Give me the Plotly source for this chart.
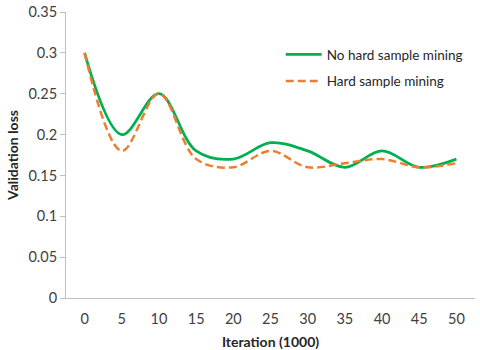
import plotly.graph_objects as go

iterations = [0, 5, 10, 15, 20, 25, 30, 35, 40, 45, 50]
no_hard = [0.30, 0.20, 0.25, 0.18, 0.17, 0.19, 0.18, 0.16, 0.18, 0.16, 0.17]
hard = [0.30, 0.18, 0.25, 0.17, 0.16, 0.18, 0.16, 0.165, 0.17, 0.16, 0.165]
y_ticks = [0, 0.05, 0.1, 0.15, 0.2, 0.25, 0.3, 0.35]
y_labels = ["0", "0.05", "0.1", "0.15", "0.2", "0.25", "0.3", "0.35"]

font_family = "Lato, Carlito, Calibri, sans-serif"

fig = go.Figure()
fig.add_trace(go.Scatter(
    x=iterations, y=no_hard, mode="lines", name="No hard sample mining",
    legendgroup="a",
    line=dict(color="#00b050", width=2.75, shape="spline", smoothing=1.0),
))
fig.add_trace(go.Scatter(
    x=iterations, y=hard, mode="lines", name="Hard sample mining",
    legendgroup="b",
    line=dict(color="#ed7d31", width=2.5, shape="spline", smoothing=1.0, dash="8px,4px"),
))

fig.update_layout(
    width=480, height=350,
    margin=dict(l=66, r=5, t=12, b=52, autoexpand=False),
    paper_bgcolor="white", plot_bgcolor="white",
    font=dict(family=font_family, size=14.5, color="#404040"),
    showlegend=True,
    legend=dict(x=0.525, y=0.905, xanchor="left", yanchor="top",
                bgcolor="rgba(0,0,0,0)", font=dict(size=13.5, color="#262626"),
                traceorder="grouped", tracegroupgap=6, itemwidth=36),
    xaxis=dict(
        range=[-2.5, 52.5], tickmode="array", tickvals=iterations,
        ticktext=[str(v) for v in iterations], automargin=False,
        showgrid=False, zeroline=False, showline=True, linecolor="#bfbfbf",
        linewidth=1, ticks="", ticklabelstandoff=8,
        title=dict(text="<b>Iteration (1000)</b>", font=dict(size=14, color="#262626"), standoff=12),
    ),
    yaxis=dict(
        range=[0, 0.35], tickmode="array", tickvals=y_ticks, ticktext=y_labels,
        automargin=False,
        showgrid=False, zeroline=False, showline=True, linecolor="#bfbfbf",
        linewidth=1, ticks="outside", ticklen=5, tickcolor="#bfbfbf",
        title=dict(text="<b>Validation loss</b>", font=dict(size=14, color="#262626"), standoff=6),
    ),
)

fig.write_html("out.html", config={"displayModeBar": False},
               post_script="document.body.style.margin='0';document.body.style.padding='0';")
